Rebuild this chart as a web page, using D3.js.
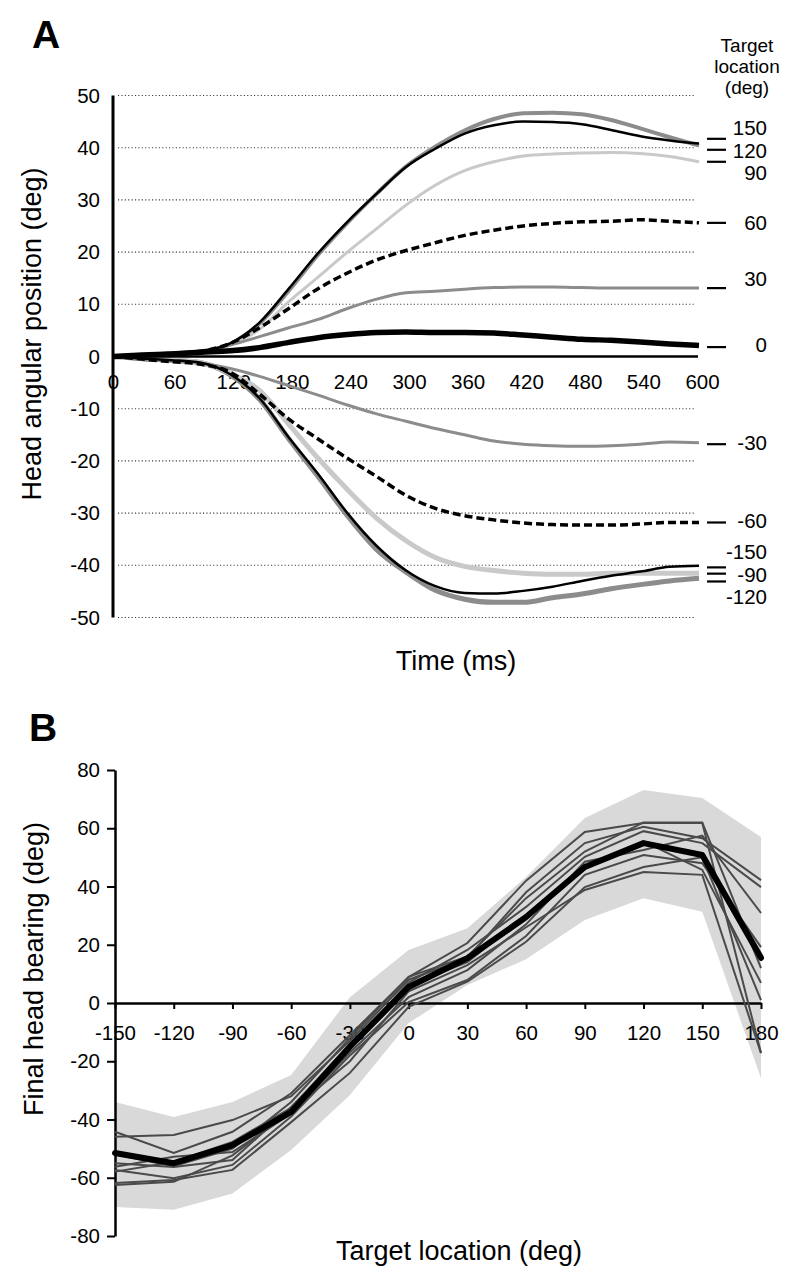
<!DOCTYPE html>
<html>
<head>
<meta charset="utf-8">
<script src="https://cdn.jsdelivr.net/npm/d3@7"></script>
<style>
  body { margin: 0; background: #fff; }
  svg { display: block; font-family: "Liberation Sans", Arial, sans-serif; }
</style>
</head>
<body>
<svg id="chart"></svg>
<script>
const WIDTH = 800;
const HEIGHT = 1285;
const FONT_TICK = 20.5;
const FONT_TITLE = 27;

// ---- panel A: head angular position (deg), sampled every 30 ms ----
const timeMs = [0, 30, 60, 90, 120, 150, 180, 210, 240, 270, 300, 330, 360, 390, 420, 450, 480, 510, 540, 570, 600];
const timeTicks = [0, 60, 120, 180, 240, 300, 360, 420, 480, 540, 600];
const angleTicks = [-50, -40, -30, -20, -10, 0, 10, 20, 30, 40, 50];

const head_p150 = [0, 0.3, 0.6, 1.0, 2.5, 6.5, 13, 19.8, 25.8, 31.2, 36.3, 39.8, 42.7, 44.3, 45, 44.9, 44.5, 43.4, 42.2, 41.4, 40.8];
const head_p120 = [0, 0.3, 0.6, 1.0, 2.4, 6.3, 12.6, 19.5, 25.6, 31.2, 36.4, 40.2, 43.3, 45.5, 46.6, 46.7, 46.4, 45.3, 43.7, 42, 40.4];
const head_p90 = [0, 0.3, 0.6, 1.0, 2.2, 5.2, 10.5, 15.2, 20, 24.5, 29, 32.8, 35.6, 37.3, 38.4, 38.8, 39, 39.1, 38.9, 38.3, 37.3];
const head_p60 = [0, 0.3, 0.6, 1.0, 2.5, 5.5, 9.2, 13, 16, 18.5, 20.3, 21.8, 23.2, 24.2, 25, 25.5, 25.8, 25.9, 26.2, 25.9, 25.6];
const head_p30 = [0, 0.3, 0.6, 1.0, 2.2, 3.8, 5.5, 7.1, 9.2, 11, 12.2, 12.5, 12.9, 13.2, 13.3, 13.3, 13.2, 13.1, 13.1, 13.1, 13.1];
const head_0 = [0, 0.3, 0.5, 0.8, 1.1, 1.7, 2.7, 3.6, 4.2, 4.6, 4.7, 4.6, 4.6, 4.5, 4.1, 3.7, 3.3, 3.1, 2.8, 2.4, 2.1];
const head_m30 = [0, -0.6, -0.9, -1.3, -2.3, -3.8, -5.6, -7.4, -9.3, -11, -12.4, -13.8, -15, -16.2, -16.8, -17.1, -17.2, -17.1, -16.8, -16.4, -16.5];
const head_m60 = [0, -0.5, -1.0, -1.5, -3, -7.2, -12, -15.8, -19.5, -23, -26.6, -29.1, -30.5, -31.3, -31.9, -32.2, -32.3, -32.3, -32.1, -31.8, -31.8];
const head_m90 = [0, -0.4, -0.7, -1.2, -3.2, -6.5, -13, -19.5, -25.5, -31, -35.3, -38.5, -40.2, -41, -41.5, -41.7, -41.7, -41.5, -41.5, -41.5, -41.5];
const head_m120 = [0, -0.4, -0.7, -1.2, -3.5, -8.2, -15.8, -23, -30.5, -37, -41.3, -44.8, -46.5, -47.1, -47.1, -46.2, -45.5, -44.5, -43.7, -43, -42.5];
const head_m150 = [0, -0.4, -0.7, -1.2, -3.4, -8, -15.5, -22.5, -30, -36.3, -41, -44, -45.3, -45.4, -44.9, -44.1, -43, -42, -41.2, -40.3, -40.1];

// right-hand key: target labels and their marks (deg)
const keyTargets = ['150', '120', '90', '60', '30', '0', '-30', '-60', '-150', '-90', '-120'];
const keyMarkDeg = [41.7, 39.6, 37.3, 25.6, 13.1, 1.8, -16.8, -31.8, -40.4, -41.6, -43.1];
const keyLabelDeg = [43.9, 39.4, 35.2, 25.6, 14.9, 2.2, -16.6, -31.4, -37.5, -41.9, -46.1];

// ---- panel B: final head bearing vs target location ----
const targetDeg = [-150, -120, -90, -60, -30, 0, 30, 60, 90, 120, 150, 180];
const bearingTicks = [-80, -60, -40, -20, 0, 20, 40, 60, 80];
const meanBearing = [-51.5, -55, -48.8, -37.4, -15, 5.5, 15.4, 29.5, 46.7, 54.9, 50.8, 15.5];
const bandUpper = [-34, -39.1, -34, -24.7, 2, 18.2, 25.7, 43.3, 63.5, 73.1, 70.4, 57];
const bandLower = [-70, -71, -65.4, -50.5, -31.6, -6.9, 6.2, 15, 28.5, 36, 31.3, -25.8];
const subj1 = [-44.2, -51.5, -44.2, -31, -11, 8.9, 20.6, 42, 58.7, 61.8, 61.8, -17.2];
const subj2 = [-45.9, -45.3, -40.2, -32, -13, 8, 15.5, 38, 54.9, 60.5, 56.6, 42.2];
const subj3 = [-55, -56.3, -53.9, -35.7, -15, 7, 18.2, 33, 50.2, 59, 54.9, 39.8];
const subj4 = [-56.2, -52.8, -51.2, -38, -17, 2, 11.3, 27, 48.5, 52.5, 57.5, 30.9];
const subj5 = [-57.3, -60.2, -55.6, -39, -18, 0.3, 7.9, 23, 44, 50.8, 48, 19.2];
const subj6 = [-57.9, -54.6, -47.7, -36, -14, 6, 14, 30, 46, 55.5, 45.7, 6.9];
const subj7 = [-61.8, -60.8, -57.3, -40.9, -24, -1.3, 7.3, 21, 39.8, 46.7, 50, 1];
const subj8 = [-62.5, -61.4, -52.3, -37, -20, 4, 13, 26, 38.8, 45, 44, -17.2];
const subj9 = [-52, -56, -50, -34, -12, 9, 16, 36, 52, 62, 62, 12];

// line styles for panel A (drawn in this order)
const seriesA = [
    { data: head_p120, color: '#8c8c8c', width: 4 },
    { data: head_m120, color: '#8c8c8c', width: 5 },
    { data: head_p90, color: '#c9c9c9', width: 3 },
    { data: head_m90, color: '#c9c9c9', width: 5 },
    { data: head_p30, color: '#8c8c8c', width: 3 },
    { data: head_m30, color: '#8c8c8c', width: 3 },
    { data: head_p60, color: '#000', width: 3.5, dash: '8,4' },
    { data: head_m60, color: '#000', width: 3.5, dash: '8,4' },
    { data: head_p150, color: '#000', width: 2.5 },
    { data: head_m150, color: '#000', width: 2.5 },
    { data: head_0, color: '#000', width: 5.5 }
];

// plain hyphen for negatives, as in the original figure
const plain = (d) => String(d);

var svg = d3.select('#chart')
    .attr('width', WIDTH)
    .attr('height', HEIGHT);

/* ---------------- Panel A ---------------- */
var xA = d3.scaleLinear().domain([0, 600]).range([113, 699]);
var yA = d3.scaleLinear().domain([-50, 50]).range([617.5, 95.5]);

svg.append('text')
    .attr('x', 32).attr('y', 48)
    .attr('font-size', 39).attr('font-weight', 'bold')
    .text('A');

// dotted grid
svg.append('g')
    .selectAll('line')
    .data(angleTicks.filter(d => d !== 0))
    .join('line')
    .attr('x1', 118).attr('x2', 694)
    .attr('y1', d => yA(d)).attr('y2', d => yA(d))
    .attr('stroke', '#333')
    .attr('stroke-width', 1.1)
    .attr('stroke-dasharray', '1.1,2.3');

// y axis
var gyA = svg.append('g')
    .attr('transform', 'translate(113,0)')
    .call(d3.axisLeft(yA).tickValues(angleTicks).tickFormat(plain).tickSize(0).tickPadding(13).tickSizeOuter(0));
gyA.select('.domain').remove();
gyA.selectAll('text').attr('font-size', FONT_TICK).attr('fill', '#000').attr('font-family', null);

// x axis labels
var gxA = svg.append('g')
    .attr('transform', 'translate(0,' + yA(0) + ')')
    .call(d3.axisBottom(xA).tickValues(timeTicks).tickFormat(plain).tickSize(0).tickPadding(18).tickSizeOuter(0));
gxA.select('.domain').remove();
gxA.selectAll('text').attr('font-size', FONT_TICK).attr('fill', '#000').attr('font-family', null)
    .attr('dx', d => d === 0 ? 0 : 3);

// curves
var lineA = d3.line()
    .x((d, i) => xA(timeMs[i]))
    .y(d => yA(d))
    .curve(d3.curveMonotoneX);

svg.append('g')
    .selectAll('path')
    .data(seriesA)
    .join('path')
    .attr('fill', 'none')
    .attr('stroke', d => d.color)
    .attr('stroke-width', d => d.width)
    .attr('stroke-dasharray', d => d.dash || null)
    .attr('stroke-linejoin', 'round')
    .attr('d', d => lineA(d.data));

// axis lines
svg.append('line')
    .attr('x1', 113).attr('x2', 113)
    .attr('y1', yA(50)).attr('y2', yA(-50))
    .attr('stroke', '#000').attr('stroke-width', 3);
svg.append('line')
    .attr('x1', 113).attr('x2', xA(600) - 1)
    .attr('y1', yA(0)).attr('y2', yA(0))
    .attr('stroke', '#000').attr('stroke-width', 2.5);

// key on the right
svg.append('g')
    .selectAll('line')
    .data(keyMarkDeg)
    .join('line')
    .attr('x1', 707).attr('x2', 726)
    .attr('y1', d => yA(d)).attr('y2', d => yA(d))
    .attr('stroke', '#000').attr('stroke-width', 2.2);

svg.append('g')
    .selectAll('text')
    .data(keyTargets)
    .join('text')
    .attr('x', 767)
    .attr('y', (d, i) => yA(keyLabelDeg[i]))
    .attr('dy', '0.35em')
    .attr('text-anchor', 'end')
    .attr('font-size', FONT_TICK)
    .text(d => d);

svg.append('text')
    .attr('x', 747).attr('y', 52)
    .attr('text-anchor', 'middle')
    .attr('font-size', 19)
    .selectAll('tspan')
    .data(['Target', 'location', '(deg)'])
    .join('tspan')
    .attr('x', 747)
    .attr('dy', (d, i) => i === 0 ? 0 : 21)
    .text(d => d);

svg.append('text')
    .attr('transform', 'translate(41,334) rotate(-90)')
    .attr('text-anchor', 'middle')
    .attr('font-size', FONT_TITLE)
    .text('Head angular position (deg)');

svg.append('text')
    .attr('x', 456).attr('y', 670)
    .attr('text-anchor', 'middle')
    .attr('font-size', FONT_TITLE)
    .text('Time (ms)');

/* ---------------- Panel B ---------------- */
var xB = d3.scaleLinear().domain([-150, 180]).range([115, 761]);
var yB = d3.scaleLinear().domain([-80, 80]).range([1236, 770]);

svg.append('text')
    .attr('x', 29).attr('y', 741)
    .attr('font-size', 39).attr('font-weight', 'bold')
    .text('B');

// variability band
svg.append('path')
    .datum(targetDeg)
    .attr('fill', '#d9d9d9')
    .attr('d', d3.area()
        .x(d => xB(d))
        .y0((d, i) => yB(bandLower[i]))
        .y1((d, i) => yB(bandUpper[i])));

// axes
var gyB = svg.append('g')
    .attr('transform', 'translate(115,0)')
    .call(d3.axisLeft(yB).tickValues(bearingTicks).tickFormat(plain).tickSize(8).tickPadding(7).tickSizeOuter(0));
gyB.select('.domain').attr('stroke-width', 2.5);
gyB.selectAll('.tick line').attr('stroke-width', 2);
gyB.selectAll('text').attr('font-size', FONT_TICK).attr('fill', '#000').attr('font-family', null);

var gxB = svg.append('g')
    .attr('transform', 'translate(0,' + yB(0) + ')')
    .call(d3.axisBottom(xB).tickValues(targetDeg).tickFormat(plain).tickSize(6).tickPadding(16).tickSizeOuter(0));
gxB.select('.domain').attr('stroke-width', 2.5);
gxB.selectAll('.tick line').attr('stroke-width', 2);
gxB.selectAll('text').attr('font-size', FONT_TICK).attr('fill', '#000').attr('font-family', null);

// individual subjects
var lineB = d3.line()
    .x((d, i) => xB(targetDeg[i]))
    .y(d => yB(d));

svg.append('g')
    .selectAll('path')
    .data([subj1, subj2, subj3, subj4, subj5, subj6, subj7, subj8, subj9])
    .join('path')
    .attr('fill', 'none')
    .attr('stroke', '#4a4a4a')
    .attr('stroke-width', 2)
    .attr('d', d => lineB(d));

// mean
svg.append('path')
    .datum(meanBearing)
    .attr('fill', 'none')
    .attr('stroke', '#000')
    .attr('stroke-width', 6)
    .attr('stroke-linejoin', 'round')
    .attr('stroke-linecap', 'round')
    .attr('d', lineB);

svg.append('text')
    .attr('transform', 'translate(43,969) rotate(-90)')
    .attr('text-anchor', 'middle')
    .attr('font-size', FONT_TITLE)
    .text('Final head bearing (deg)');

svg.append('text')
    .attr('x', 459).attr('y', 1260)
    .attr('text-anchor', 'middle')
    .attr('font-size', FONT_TITLE)
    .text('Target location (deg)');
</script>
</body>
</html>
